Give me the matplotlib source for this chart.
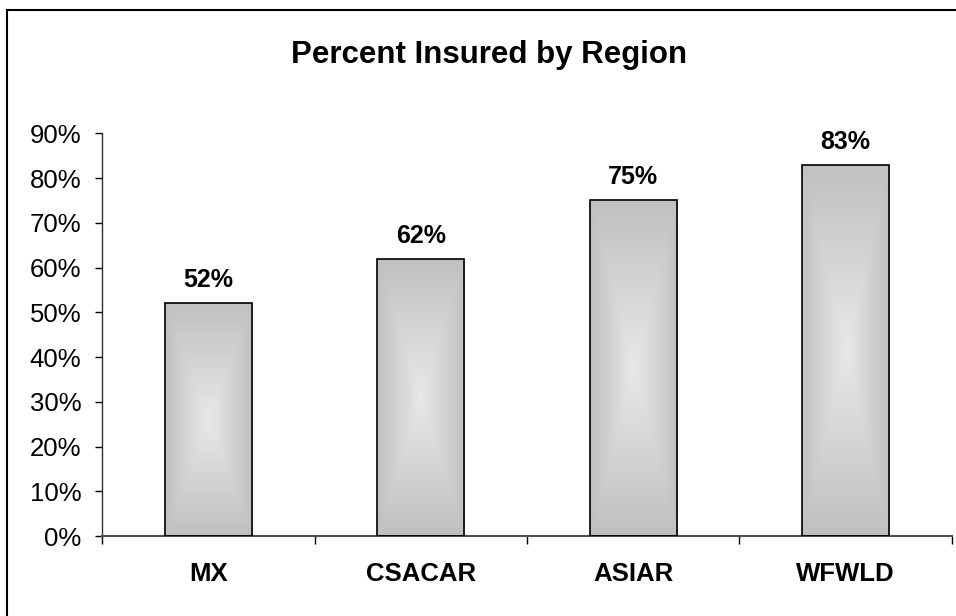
import matplotlib
matplotlib.use("Agg")
import matplotlib.pyplot as plt
import numpy as np
from matplotlib.patches import Rectangle
from matplotlib.colors import LinearSegmentedColormap
from matplotlib.ticker import FuncFormatter, FixedLocator

categories = ["MX", "CSACAR", "ASIAR", "WFWLD"]
percent_insured = [52, 62, 75, 83]
title = "Percent Insured by Region"

plt.rcParams['font.family'] = ['Liberation Sans', 'DejaVu Sans']

W, H = 956, 616
fig = plt.figure(figsize=(W / 100, H / 100), dpi=100)
ax = fig.add_axes([102 / W, 1 - 536 / H, (952 - 102) / W, (536 - 133.3) / H])

x = np.arange(len(categories))
bw = 0.41
bars = ax.bar(x, percent_insured, width=bw, facecolor='none', edgecolor='black',
              linewidth=1.2, zorder=3)

cmap = LinearSegmentedColormap.from_list("g", ["#e8e8e8", "#c0c0c0"])
n = 200
u = np.linspace(-1, 1, n)
UU, VV = np.meshgrid(u, u)
T = np.maximum(np.abs(UU), np.abs(VV))
for b in bars:
    x0, y0 = b.get_x(), b.get_y()
    w, h = b.get_width(), b.get_height()
    im = ax.imshow(T, cmap=cmap, vmin=0, vmax=1, extent=[x0, x0 + w, y0, y0 + h],
                   aspect='auto', origin='lower', zorder=2, interpolation='bilinear')
    clip = Rectangle((x0, y0), w, h, transform=ax.transData)
    im.set_clip_path(clip)

for xi, v in zip(x, percent_insured):
    ax.annotate(f"{v}%", (xi, v), xytext=(0, 11.5), textcoords='offset points',
                ha='center', va='baseline', fontsize=18, fontweight='bold')

ax.set_xlim(-0.5, len(categories) - 0.5)
ax.set_ylim(0, 90)
ax.set_yticks(np.arange(0, 91, 10))
ax.yaxis.set_major_formatter(FuncFormatter(lambda v, p: f"{int(round(v))}%"))
ax.tick_params(axis='y', direction='out', length=5, width=1, pad=10, labelsize=18.5,
               color='black')

ax.set_xticks(x)
ax.set_xticklabels(categories, fontsize=18.5, fontweight='bold')
ax.tick_params(axis='x', which='major', length=0, pad=19)
ax.xaxis.set_minor_locator(FixedLocator(np.arange(-0.5, len(categories), 1.0)))
ax.tick_params(axis='x', which='minor', direction='out', length=6, width=1, color='black')

for s in ['top', 'right']:
    ax.spines[s].set_visible(False)
ax.spines['left'].set_color('#303030')
ax.spines['left'].set_linewidth(1.0)
ax.spines['bottom'].set_color('#505050')
ax.spines['bottom'].set_linewidth(1.5)
ax.spines['left'].set_bounds(0, 90)

fig.text(489 / W, 1 - 63.3 / H, title, ha='center', va='baseline', fontsize=22.5,
         fontweight='bold')

border = Rectangle((7 / W, -0.5), 2.0, (1 - 10 / H) + 0.5, transform=fig.transFigure,
                   fill=False, edgecolor='black', linewidth=1.5, clip_on=False)
fig.patches.append(border)

fig.savefig("out.png", dpi=100)
